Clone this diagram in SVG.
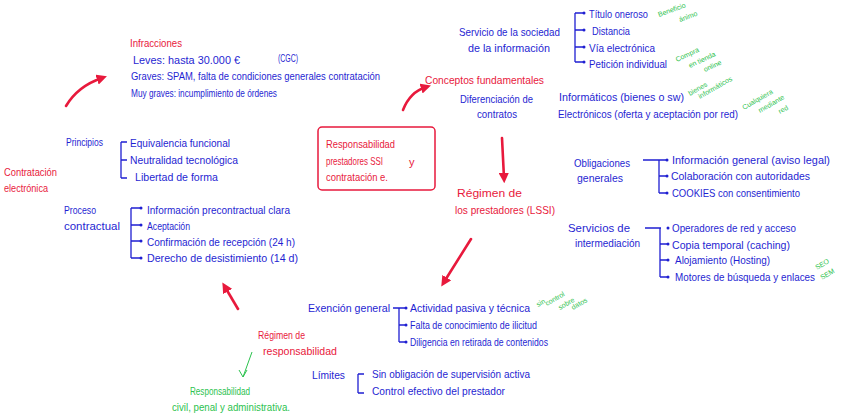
<svg xmlns="http://www.w3.org/2000/svg" width="848" height="416" viewBox="0 0 848 416">
<defs>
<style>
text{font-family:"Liberation Sans","DejaVu Sans",sans-serif;font-size:11px}
.r{fill:#e8193c}
.b{fill:#1f1fd2}
.g{fill:#2cc24e;font-size:7px}
.gl{fill:#2cc24e;font-size:10px}
.rl{fill:none;stroke:#e8193c;stroke-width:2.6;stroke-linecap:round}
.br{fill:none;stroke:#1f1fd2;stroke-width:1.3}
.dot{fill:#1f1fd2}
</style>
<marker id="ah" viewBox="0 0 10 10" refX="5" refY="5" markerWidth="4" markerHeight="4" orient="auto-start-reverse">
<path d="M0,0 L10,5 L0,10 Z" fill="#e8193c"/>
</marker>
</defs>
<rect width="848" height="416" fill="#fff"/>

<g id="connectors">
<path class="rl" d="M66,106 Q78,86 102,78" marker-end="url(#ah)"/>
<path class="rl" d="M403,110 Q410,92 426,87" marker-end="url(#ah)"/>
<path class="rl" d="M502,138 L504,178" marker-end="url(#ah)"/>
<path class="rl" d="M471,239 L444,282" marker-end="url(#ah)"/>
<path class="rl" d="M238,309 L225,287" marker-end="url(#ah)"/>
<path d="M252,352 L243,377 M239,370 L243,377 L247,370" fill="none" stroke="#2cc24e" stroke-width="1"/>
</g>

<g id="infracciones">
<text class="r" x="130" y="47" textLength="52" lengthAdjust="spacingAndGlyphs">Infracciones</text>
<text class="b" x="133" y="64" textLength="107" lengthAdjust="spacingAndGlyphs">Leves: hasta 30.000 €</text>
<text class="b" x="278" y="62" font-size="9" textLength="20" lengthAdjust="spacingAndGlyphs">(CGC)</text>
<text class="b" x="131" y="80" textLength="249" lengthAdjust="spacingAndGlyphs">Graves: SPAM, falta de condiciones generales contratación</text>
<text class="b" x="131" y="97" textLength="146" lengthAdjust="spacingAndGlyphs">Muy graves: incumplimiento de órdenes</text>
</g>

<g id="central">
<rect x="318" y="127" width="117" height="63" rx="4" fill="none" stroke="#e8193c" stroke-width="1.5"/>
<text class="r" x="326" y="148" textLength="69" lengthAdjust="spacingAndGlyphs">Responsabilidad</text>
<text class="r" x="326" y="165" textLength="57" lengthAdjust="spacingAndGlyphs">prestadores SSI</text>
<text class="r" x="409" y="166">y</text>
<text class="r" x="326" y="181" textLength="62" lengthAdjust="spacingAndGlyphs">contratación e.</text>
</g>

<g id="conceptos">
<text class="r" x="425" y="84" font-size="12" textLength="119" lengthAdjust="spacingAndGlyphs">Conceptos fundamentales</text>
</g>

<g id="servicio-sociedad">
<text class="b" x="459" y="36" textLength="101" lengthAdjust="spacingAndGlyphs">Servicio de la sociedad</text>
<text class="b" x="468" y="52" textLength="82" lengthAdjust="spacingAndGlyphs">de la información</text>
<path class="br" d="M575,13 V62 M575,13 H583 M575,30 H583 M575,47 H583 M575,62 H583"/>
<circle class="dot" cx="584" cy="13" r="1.5"/><circle class="dot" cx="584" cy="30" r="1.5"/><circle class="dot" cx="584" cy="47" r="1.5"/><circle class="dot" cx="584" cy="62" r="1.5"/>
<text class="b" x="589" y="18" textLength="59" lengthAdjust="spacingAndGlyphs">Título oneroso</text>
<text class="b" x="592" y="35" textLength="38" lengthAdjust="spacingAndGlyphs">Distancia</text>
<text class="b" x="589" y="52" textLength="66" lengthAdjust="spacingAndGlyphs">Vía electrónica</text>
<text class="b" x="589" y="68" textLength="78" lengthAdjust="spacingAndGlyphs">Petición individual</text>
<text class="g" transform="translate(659,17) rotate(-20)">Beneficio</text>
<text class="g" transform="translate(680,22) rotate(-20)">ánimo</text>
<text class="g" transform="translate(677,62) rotate(-25)">Compra</text>
<text class="g" transform="translate(690,68) rotate(-25)">en tienda</text>
<text class="g" transform="translate(705,72) rotate(-25)">online</text>
</g>

<g id="diferenciacion">
<text class="b" x="460" y="103" textLength="73" lengthAdjust="spacingAndGlyphs">Diferenciación de</text>
<text class="b" x="477" y="118" textLength="40" lengthAdjust="spacingAndGlyphs">contratos</text>
<text class="b" x="559" y="101" textLength="125" lengthAdjust="spacingAndGlyphs">Informáticos (bienes o sw)</text>
<text class="b" x="558" y="118" textLength="180" lengthAdjust="spacingAndGlyphs">Electrónicos (oferta y aceptación por red)</text>
<text class="g" transform="translate(690,96) rotate(-30)">bienes</text>
<text class="g" transform="translate(700,99) rotate(-30)">informáticos</text>
<text class="g" transform="translate(744,110) rotate(-30)">Cualquiera</text>
<text class="g" transform="translate(760,113) rotate(-30)">mediante</text>
<text class="g" transform="translate(780,114) rotate(-30)">red</text>
</g>

<g id="regimen-prestadores">
<text class="r" x="457" y="197" textLength="65" lengthAdjust="spacingAndGlyphs">Régimen de</text>
<text class="r" x="455" y="214" textLength="100" lengthAdjust="spacingAndGlyphs">los prestadores (LSSI)</text>
</g>

<g id="obligaciones">
<text class="b" x="574" y="167" textLength="56" lengthAdjust="spacingAndGlyphs">Obligaciones</text>
<text class="b" x="577" y="182" textLength="46" lengthAdjust="spacingAndGlyphs">generales</text>
<path class="br" d="M643,160 H660 M659,160 V193 M659,176 H666 M659,193 H666 M659,160 H666"/>
<circle class="dot" cx="667" cy="160" r="1.5"/><circle class="dot" cx="667" cy="176" r="1.5"/><circle class="dot" cx="667" cy="193" r="1.5"/>
<text class="b" x="672" y="164" textLength="158" lengthAdjust="spacingAndGlyphs">Información general (aviso legal)</text>
<text class="b" x="671" y="180" textLength="139" lengthAdjust="spacingAndGlyphs">Colaboración con autoridades</text>
<text class="b" x="672" y="197" textLength="128" lengthAdjust="spacingAndGlyphs">COOKIES con consentimiento</text>
</g>

<g id="intermediacion">
<text class="b" x="568" y="232" textLength="62" lengthAdjust="spacingAndGlyphs">Servicios de</text>
<text class="b" x="575" y="247" textLength="65" lengthAdjust="spacingAndGlyphs">intermediación</text>
<path class="br" d="M645,228 H661 M660,228 V277 M660,244 H667 M660,260 H667 M660,277 H667"/>
<circle class="dot" cx="668" cy="228" r="1.5"/><circle class="dot" cx="668" cy="244" r="1.5"/><circle class="dot" cx="668" cy="260" r="1.5"/><circle class="dot" cx="668" cy="277" r="1.5"/>
<text class="b" x="672" y="232" textLength="124" lengthAdjust="spacingAndGlyphs">Operadores de red y acceso</text>
<text class="b" x="672" y="249" textLength="118" lengthAdjust="spacingAndGlyphs">Copia temporal (caching)</text>
<text class="b" x="675" y="264" textLength="95" lengthAdjust="spacingAndGlyphs">Alojamiento (Hosting)</text>
<text class="b" x="675" y="281" textLength="140" lengthAdjust="spacingAndGlyphs">Motores de búsqueda y enlaces</text>
<text class="g" transform="translate(817,270) rotate(-30)">SEO</text>
<text class="g" transform="translate(822,280) rotate(-30)">SEM</text>
</g>

<g id="contratacion">
<text class="r" x="4" y="176" textLength="53" lengthAdjust="spacingAndGlyphs">Contratación</text>
<text class="r" x="4" y="192" textLength="44" lengthAdjust="spacingAndGlyphs">electrónica</text>
</g>

<g id="principios">
<text class="b" x="66" y="146" textLength="37" lengthAdjust="spacingAndGlyphs">Principios</text>
<path class="br" d="M121,142 V178 M121,142 H127 M121,160 H127 M121,178 H127"/>
<text class="b" x="130" y="147" textLength="100" lengthAdjust="spacingAndGlyphs">Equivalencia funcional</text>
<text class="b" x="130" y="164" textLength="108" lengthAdjust="spacingAndGlyphs">Neutralidad tecnológica</text>
<text class="b" x="135" y="181" textLength="83" lengthAdjust="spacingAndGlyphs">Libertad de forma</text>
</g>

<g id="proceso">
<text class="b" x="64" y="214" textLength="32" lengthAdjust="spacingAndGlyphs">Proceso</text>
<text class="b" x="64" y="230" textLength="56" lengthAdjust="spacingAndGlyphs">contractual</text>
<path class="br" d="M131,208 V258 M131,208 H140 M131,225 H140 M131,241 H140 M131,258 H140"/>
<circle class="dot" cx="141" cy="208" r="1.5"/><circle class="dot" cx="141" cy="225" r="1.5"/><circle class="dot" cx="141" cy="241" r="1.5"/><circle class="dot" cx="141" cy="258" r="1.5"/>
<text class="b" x="147" y="214" textLength="143" lengthAdjust="spacingAndGlyphs">Información precontractual clara</text>
<text class="b" x="147" y="230" textLength="43" lengthAdjust="spacingAndGlyphs">Aceptación</text>
<text class="b" x="147" y="246" textLength="148" lengthAdjust="spacingAndGlyphs">Confirmación de recepción (24 h)</text>
<text class="b" x="147" y="262" textLength="151" lengthAdjust="spacingAndGlyphs">Derecho de desistimiento (14 d)</text>
</g>

<g id="regimen-responsabilidad">
<text class="r" x="258" y="339" textLength="47" lengthAdjust="spacingAndGlyphs">Régimen de</text>
<text class="r" x="263" y="355" textLength="74" lengthAdjust="spacingAndGlyphs">responsabilidad</text>
</g>

<g id="responsabilidad-civil">
<text class="gl" x="190" y="395" textLength="60" lengthAdjust="spacingAndGlyphs">Responsabilidad</text>
<text class="gl" x="172" y="411" textLength="118" lengthAdjust="spacingAndGlyphs">civil, penal y administrativa.</text>
</g>

<g id="exencion">
<text class="b" x="308" y="312" textLength="82" lengthAdjust="spacingAndGlyphs">Exención general</text>
<path class="br" d="M393,308 H405 M399,308 V342 M399,325 H405 M399,342 H405"/>
<circle class="dot" cx="406" cy="308" r="1.5"/><circle class="dot" cx="406" cy="325" r="1.5"/><circle class="dot" cx="406" cy="342" r="1.5"/>
<text class="b" x="410" y="312" textLength="120" lengthAdjust="spacingAndGlyphs">Actividad pasiva y técnica</text>
<text class="b" x="410" y="329" textLength="127" lengthAdjust="spacingAndGlyphs">Falta de conocimiento de ilicitud</text>
<text class="b" x="410" y="346" textLength="138" lengthAdjust="spacingAndGlyphs">Diligencia en retirada de contenidos</text>
<text class="g" transform="translate(538,307) rotate(-30)">sin</text>
<text class="g" transform="translate(547,306) rotate(-30)">control</text>
<text class="g" transform="translate(560,310) rotate(-30)">sobre</text>
<text class="g" transform="translate(573,310) rotate(-30)">datos</text>
</g>

<g id="limites">
<text class="b" x="312" y="379" textLength="33" lengthAdjust="spacingAndGlyphs">Límites</text>
<path class="br" d="M358,374 V393 M358,374 H364 M358,393 H364"/>
<text class="b" x="372" y="378" textLength="158" lengthAdjust="spacingAndGlyphs">Sin obligación de supervisión activa</text>
<text class="b" x="372" y="395" textLength="133" lengthAdjust="spacingAndGlyphs">Control efectivo del prestador</text>
</g>
</svg>
